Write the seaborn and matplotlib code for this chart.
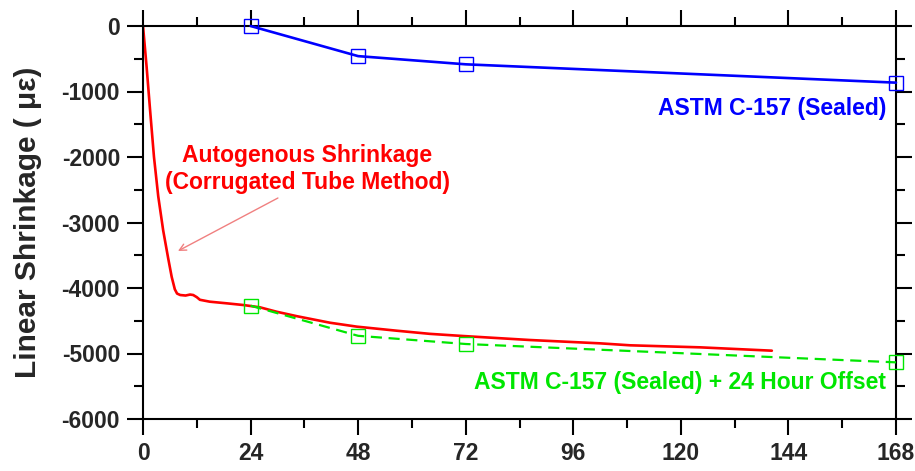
import matplotlib
matplotlib.use("Agg")
import matplotlib.pyplot as plt
import seaborn as sns
import numpy as np
import pandas as pd

# ---- data ----
red_hours = [0, 0.8, 1.6, 2.45, 3.4, 4.5, 5.6, 6.4, 7.1, 7.6, 8.3, 9.5, 10.5, 11.2, 12.0,
             12.7, 14.9, 18.7, 22.4, 26.1, 29.8, 34.3, 41.7, 47.7, 56.6, 64, 71.4, 86.3,
             102, 108.7, 124.3, 140.3]
red_strain = [0, -620, -1300, -2000, -2600, -3120, -3540, -3830, -4020, -4085, -4107, -4115,
              -4100, -4107, -4140, -4180, -4209, -4234, -4260, -4295, -4362, -4430, -4530,
              -4590, -4652, -4700, -4733, -4794, -4845, -4875, -4906, -4957]

astm_hours = [24, 48, 72, 168]
astm_sealed = [0, -460, -585, -865]
astm_offset = [-4270, -4730, -4855, -5135]

x_ticks = [0, 24, 48, 72, 96, 120, 144, 168]
y_ticks = [-6000, -5000, -4000, -3000, -2000, -1000, 0]

RED = "#FF0000"
BLUE = "#0000FF"
GREEN = "#00E600"

sns.set_style("ticks")
plt.rcParams['font.family'] = ['Liberation Sans', 'DejaVu Sans']
plt.rcParams['font.weight'] = 'bold'

fig = plt.figure(figsize=(9.15, 4.71), dpi=100)
ax = fig.add_axes([143/915, 1 - 419/471, (896 - 143)/915, (419 - 26)/471])

sns.lineplot(x=red_hours, y=red_strain, ax=ax, color=RED, linewidth=1.9, sort=False)
sns.lineplot(x=astm_hours, y=astm_offset, ax=ax, color=GREEN, linewidth=1.6,
             linestyle=(0, (5, 3)), marker='s', markersize=10, markerfacecolor='none',
             markeredgecolor=GREEN, markeredgewidth=1.0, clip_on=False, zorder=3)
sns.lineplot(x=astm_hours, y=astm_sealed, ax=ax, color=BLUE, linewidth=1.9,
             marker='s', markersize=10, markerfacecolor='none',
             markeredgecolor=BLUE, markeredgewidth=1.0, clip_on=False, zorder=3)

ax.set_xlim(0, 168)
ax.set_ylim(-6000, 0)
ax.set_xticks(x_ticks)
ax.set_xticklabels([str(v) for v in x_ticks])
ax.set_yticks(y_ticks)
ax.set_yticklabels([str(v) for v in y_ticks])
ax.set_xticks(np.arange(12, 168, 24), minor=True)
ax.set_yticks(np.arange(-5500, 0, 1000), minor=True)

for s in ax.spines.values():
    s.set_visible(True)
    s.set_linewidth(1.5)
    s.set_color('black')

ax.tick_params(which='major', direction='out', length=11.5, width=1.5, color='black',
               labelsize=16.5, pad=5, top=True, right=True, labeltop=False, labelright=False)
ax.tick_params(which='minor', direction='out', length=6.5, width=1.5, color='black',
               top=True, right=True)
for lab in ax.get_xticklabels() + ax.get_yticklabels():
    lab.set_fontweight('bold')

ax.set_xlabel('')
ax.set_ylabel('Linear Shrinkage ( \u03bc\u03b5)', fontsize=21.5, fontweight='bold', labelpad=14)

ax.text(36.6, -2183, 'Autogenous Shrinkage\n(Corrugated Tube Method)', color=RED,
        fontsize=16.5, fontweight='bold', ha='center', va='center', linespacing=1.2)
ax.annotate('', xy=(7.8, -3435), xytext=(30.1, -2626),
            arrowprops=dict(arrowstyle='->', color='#F08080', lw=1.0,
                            shrinkA=0, shrinkB=0, mutation_scale=12))
ax.text(165.8, -1252, 'ASTM C-157 (Sealed)', color=BLUE, fontsize=16.5,
        fontweight='bold', ha='right', va='center')
ax.text(165.8, -5450, 'ASTM C-157 (Sealed) + 24 Hour Offset', color=GREEN, fontsize=16.5,
        fontweight='bold', ha='right', va='center')

fig.savefig('out.png', dpi=100)
